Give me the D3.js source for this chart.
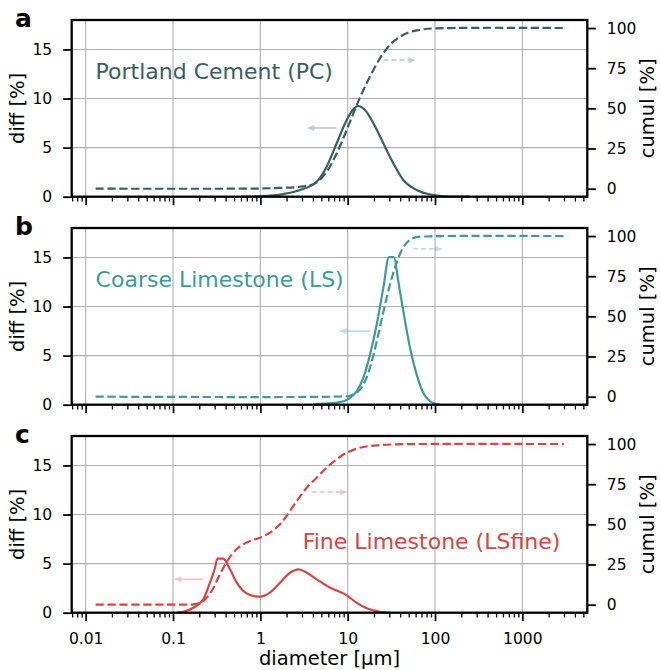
<!DOCTYPE html>
<html>
<head>
<meta charset="utf-8">
<script src="https://cdn.jsdelivr.net/npm/d3@7"></script>
<style>
  body { margin: 0; background: #fff; }
  svg { display: block; font-family: "DejaVu Sans", sans-serif; }
</style>
</head>
<body>
<svg id="chart" width="660" height="670"></svg>
<script>
// Particle size distributions: differential (diff, %) and cumulative (cumul, %)
// Each entry is [diameter in µm, value in %]
const materials = ["Portland Cement (PC)", "Coarse Limestone (LS)", "Fine Limestone (LSfine)"];
const panelLetters = ["a", "b", "c"];

const pcDiff = [
  [0.6, 0], [1.0, 0.05], [1.83, 0.27], [2.85, 0.68], [4.42, 1.53], [5.75, 3.06],
  [7.49, 5.44], [9.75, 7.81], [11.6, 8.9], [13.2, 9.24], [15.8, 8.83], [19.7, 7.48],
  [25.6, 5.44], [33.3, 3.4], [43.4, 1.7], [61.7, 0.68], [95.7, 0.17], [150, 0.02], [250, 0]
];
const pcCumul = [
  [0.013, 0], [1.0, 0.1], [1.68, 0.5], [2.85, 1.2], [4.23, 3.3], [5.75, 10.6],
  [7.49, 22.0], [9.75, 36.5], [12.7, 52.1], [15.8, 63.5], [19.7, 73.9], [25.6, 84.3],
  [33.3, 91.5], [47.4, 96.7], [73.5, 99.2], [150, 100], [3000, 100]
];

const lsDiff = [
  [4.0, 0], [5.26, 0.1], [8.17, 0.27], [10.6, 0.68], [12.7, 1.37], [15.1, 2.72],
  [18.0, 5.09], [21.5, 8.15], [25.6, 11.9], [29.7, 15.04], [33.9, 15.04], [38.0, 12.57],
  [43.4, 9.51], [51.8, 5.78], [61.7, 3.06], [73.5, 1.19], [87.7, 0.35], [100, 0.1], [115, 0]
];
const lsCumul = [
  [0.013, 0], [8.17, 0.1], [10.6, 0.6], [13.2, 3.3], [15.8, 9.6], [18.9, 22.0],
  [22.4, 38.6], [26.8, 57.3], [32.0, 73.9], [38.0, 86.3], [45.4, 94.6], [56.5, 98.8],
  [87.7, 99.8], [120, 100], [3000, 100]
];

const lsfDiff = [
  [0.11, 0], [0.131, 0.1], [0.171, 0.51], [0.222, 1.37], [0.265, 3.06], [0.303, 4.58],
  [0.322, 5.5], [0.375, 5.5], [0.449, 4.42], [0.536, 3.06], [0.638, 2.21], [0.831, 1.70],
  [0.991, 1.63], [1.29, 2.04], [1.68, 3.06], [2.19, 4.07], [2.75, 4.42], [3.40, 4.07],
  [4.42, 3.40], [6.28, 2.55], [7.49, 2.25], [9.75, 1.77], [12.7, 1.0], [16.5, 0.45],
  [23.5, 0.08], [30.5, 0]
];
const lsfCumul = [
  [0.013, 0], [0.12, 0.05], [0.171, 0.2], [0.222, 2.3], [0.277, 8.5], [0.345, 18.9],
  [0.430, 28.2], [0.560, 35.5], [0.762, 39.6], [0.991, 41.7], [1.29, 44.8], [1.68, 50.0],
  [2.0, 55.2], [2.61, 64.5], [3.40, 72.8], [4.42, 79.0], [5.75, 85.3], [7.49, 90.5],
  [9.75, 94.6], [13.8, 97.7], [21.5, 99.2], [36.4, 99.8], [60, 100], [3000, 100]
];

const xTicks = [0.01, 0.1, 1, 10, 100, 1000];
const xTickLabels = ["0.01", "0.1", "1", "10", "100", "1000"];
const diffTicks = [0, 5, 10, 15];
const cumulTicks = [0, 25, 50, 75, 100];

// Panel setup: colour, series, label anchor and guide arrows (data units)
const panels = [
  { letter: panelLetters[0], name: materials[0], color: "#38605e", diff: pcDiff, cumul: pcCumul,
    label: { x: 0.013, y: 12 }, leftArrow: { from: 7.49, to: 3.5, y: 7 },
    rightArrow: { from: 25.6, to: 59, y: 80 } },
  { letter: panelLetters[1], name: materials[1], color: "#3c9b96", diff: lsDiff, cumul: lsCumul,
    label: { x: 0.013, y: 12 }, leftArrow: { from: 18, to: 8.17, y: 7.5 },
    rightArrow: { from: 56.5, to: 119, y: 92 } },
  { letter: panelLetters[2], name: materials[2], color: "#d84440", diff: lsfDiff, cumul: lsfCumul,
    label: { x: 3.05, y: 6.5 }, leftArrow: { from: 0.222, to: 0.105, y: 3.4 },
    rightArrow: { from: 3.87, to: 9.75, y: 70 } }
];

const X0 = 71.7, X1 = 587.3, PH = 176.7;
const tops = [20, 228, 436];
const tickFont = 15.5, labelFont = 19.5;

const svg = d3.select("#chart");
const defs = svg.append("defs");

const x = d3.scaleLog().domain([Math.pow(10, -2.16), Math.pow(10, 3.744)]).range([X0, X1]);
const isDecade = v => Math.abs(Math.log10(v) - Math.round(Math.log10(v))) < 1e-6;
const minorTicks = x.ticks().filter(v => !isDecade(v));

panels.forEach((p, i) => {
  const top = tops[i];
  const g = svg.append("g").attr("transform", `translate(0,${top})`);
  const yL = d3.scaleLinear().domain([0, 18]).range([PH, 0]);
  const yR = d3.scaleLinear().domain([-5, 105]).range([PH, 0]);

  // grid
  const grid = g.append("g").attr("stroke", "#b0b0b0").attr("stroke-width", 1.1);
  grid.selectAll("line.v").data(xTicks).join("line")
    .attr("x1", d => x(d)).attr("x2", d => x(d)).attr("y1", 0).attr("y2", PH);
  grid.selectAll("line.h").data(diffTicks).join("line")
    .attr("x1", X0).attr("x2", X1).attr("y1", d => yL(d)).attr("y2", d => yL(d));

  // curves
  const lineL = d3.line().x(d => x(d[0])).y(d => yL(d[1])).curve(d3.curveMonotoneX);
  const lineR = d3.line().x(d => x(d[0])).y(d => yR(d[1])).curve(d3.curveCatmullRom.alpha(0.5));
  g.append("path").datum(p.cumul).attr("d", lineR)
    .attr("fill", "none").attr("stroke", p.color).attr("stroke-width", 2.2)
    .attr("stroke-dasharray", "8.3,3.6");
  g.append("path").datum(p.diff).attr("d", lineL)
    .attr("fill", "none").attr("stroke", p.color).attr("stroke-width", 2.2)
    .attr("stroke-linejoin", "round");

  // arrow heads
  const mid = "head" + i;
  defs.append("marker").attr("id", mid)
    .attr("viewBox", "0 0 10 10").attr("refX", 10).attr("refY", 5)
    .attr("markerWidth", 8).attr("markerHeight", 6.5)
    .attr("markerUnits", "userSpaceOnUse").attr("orient", "auto")
    .append("path").attr("d", "M0,0L10,5L0,10Z").attr("fill", p.color);

  const la = p.leftArrow;
  g.append("g").attr("opacity", 0.3).append("line")
    .attr("x1", x(la.from)).attr("x2", x(la.to))
    .attr("y1", yL(la.y)).attr("y2", yL(la.y))
    .attr("stroke", p.color).attr("stroke-width", 1.8)
    .attr("marker-end", `url(#${mid})`);
  const ra = p.rightArrow;
  g.append("g").attr("opacity", 0.3).append("line")
    .attr("x1", x(ra.from)).attr("x2", x(ra.to))
    .attr("y1", yR(ra.y)).attr("y2", yR(ra.y))
    .attr("stroke", p.color).attr("stroke-width", 1.8)
    .attr("stroke-dasharray", "5,3")
    .attr("marker-end", `url(#${mid})`);

  // material name
  g.append("text").attr("x", x(p.label.x)).attr("y", yL(p.label.y))
    .attr("fill", p.color).attr("font-size", 22).text(p.name);

  // frame
  g.append("rect").attr("x", X0).attr("y", 0).attr("width", X1 - X0).attr("height", PH)
    .attr("fill", "none").attr("stroke", "#000").attr("stroke-width", 2.3);

  // axes
  const styleAxis = sel => {
    sel.select(".domain").remove();
    sel.selectAll(".tick line").attr("stroke", "#000");
    sel.selectAll(".tick text").attr("fill", "#000").attr("font-size", tickFont)
      .attr("font-family", "DejaVu Sans");
  };
  const last = i === panels.length - 1;

  g.append("g").attr("transform", `translate(0,${PH})`)
    .call(d3.axisBottom(x).tickValues(minorTicks).tickSize(4.8).tickFormat(""))
    .call(styleAxis).selectAll(".tick line").attr("stroke-width", 1.3);
  g.append("g").attr("transform", `translate(0,${PH})`)
    .call(d3.axisBottom(x).tickValues(xTicks).tickSize(8.5).tickPadding(12)
      .tickFormat((d, k) => last ? xTickLabels[k] : ""))
    .call(styleAxis).selectAll(".tick line").attr("stroke-width", 1.8);

  g.append("g").attr("transform", `translate(${X0},0)`)
    .call(d3.axisLeft(yL).tickValues(diffTicks).tickSize(8.5).tickPadding(11).tickFormat(d3.format("d")))
    .call(styleAxis).selectAll(".tick line").attr("stroke-width", 1.8);
  g.append("g").attr("transform", `translate(${X1},0)`)
    .call(d3.axisRight(yR).tickValues(cumulTicks).tickSize(8.5).tickPadding(11).tickFormat(d3.format("d")))
    .call(styleAxis).selectAll(".tick line").attr("stroke-width", 1.8);

  // axis titles
  g.append("text").attr("transform", `translate(24,${PH / 2}) rotate(-90)`)
    .attr("text-anchor", "middle").attr("font-size", labelFont).text("diff [%]");
  g.append("text").attr("transform", `translate(654,${PH / 2}) rotate(-90)`)
    .attr("text-anchor", "middle").attr("font-size", labelFont).text("cumul [%]");

  // panel letter
  g.append("text").attr("x", 15).attr("y", 7)
    .attr("font-size", 25).attr("font-weight", "bold").text(p.letter);
});

svg.append("text").attr("x", (X0 + X1) / 2).attr("y", 665)
  .attr("text-anchor", "middle").attr("font-size", labelFont).text("diameter [µm]");
</script>
</body>
</html>
